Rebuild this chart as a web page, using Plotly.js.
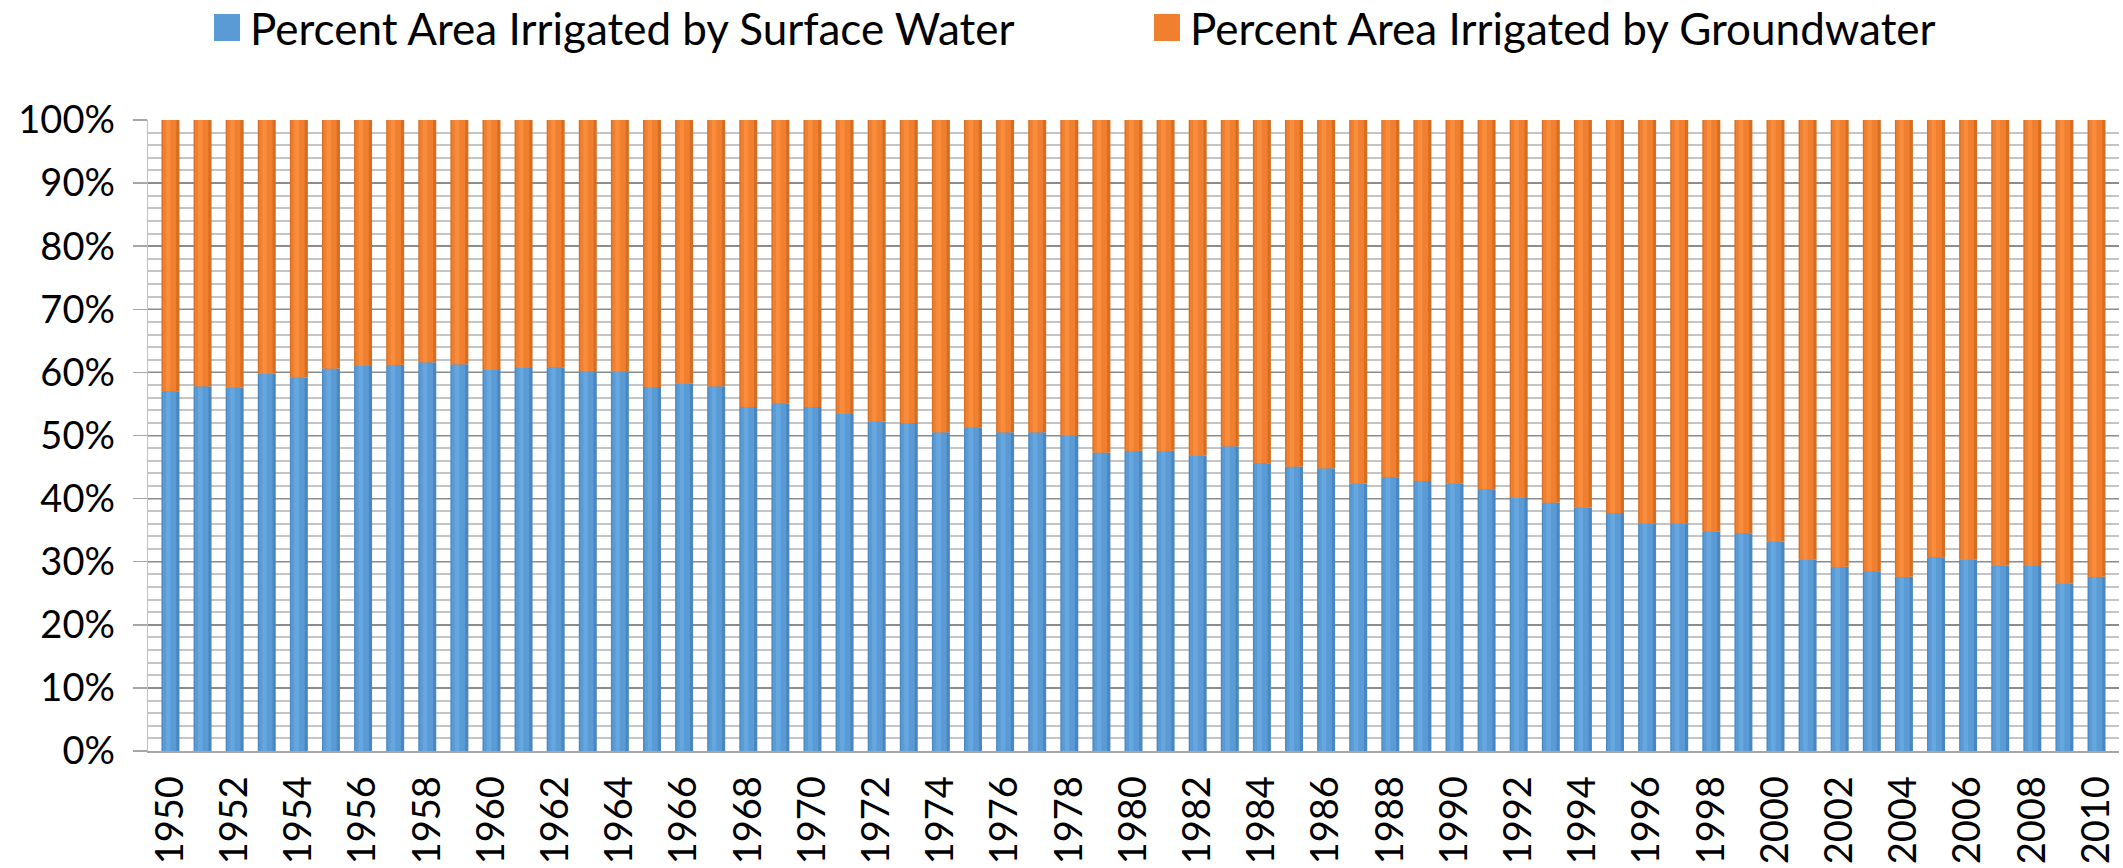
<!DOCTYPE html>
<html>
<head>
<meta charset="utf-8">
<script src="https://cdn.plot.ly/plotly-3.0.1.min.js"></script>
<style>
  html, body { margin: 0; padding: 0; background: #ffffff; }
  #chart { width: 2123px; height: 868px; }
</style>
</head>
<body>
<div id="chart"></div>
<script>
// Share of irrigated area by water source, 1950-2010 (percent)
const years = [
  1950, 1951, 1952, 1953, 1954, 1955, 1956, 1957, 1958, 1959,
  1960, 1961, 1962, 1963, 1964, 1965, 1966, 1967, 1968, 1969,
  1970, 1971, 1972, 1973, 1974, 1975, 1976, 1977, 1978, 1979,
  1980, 1981, 1982, 1983, 1984, 1985, 1986, 1987, 1988, 1989,
  1990, 1991, 1992, 1993, 1994, 1995, 1996, 1997, 1998, 1999,
  2000, 2001, 2002, 2003, 2004, 2005, 2006, 2007, 2008, 2009,
  2010
];

const surfacePct = [
  57.0, 57.8, 57.6, 59.8, 59.2, 60.6, 61.0, 61.2, 61.6, 61.3,
  60.4, 60.7, 60.8, 60.2, 60.1, 57.7, 58.2, 57.8, 54.5, 55.1,
  54.5, 53.4, 52.2, 52.0, 50.5, 51.3, 50.5, 50.5, 50.0, 47.3,
  47.6, 47.6, 46.8, 48.3, 45.6, 45.1, 44.8, 42.4, 43.4, 42.8,
  42.4, 41.5, 40.1, 39.4, 38.6, 37.7, 36.0, 36.0, 34.8, 34.5,
  33.2, 30.3, 29.2, 28.5, 27.6, 30.7, 30.3, 29.4, 29.3, 26.5,
  27.6
];

const groundPct = [
  43.0, 42.2, 42.4, 40.2, 40.8, 39.4, 39.0, 38.8, 38.4, 38.7,
  39.6, 39.3, 39.2, 39.8, 39.9, 42.3, 41.8, 42.2, 45.5, 44.9,
  45.5, 46.6, 47.8, 48.0, 49.5, 48.7, 49.5, 49.5, 50.0, 52.7,
  52.4, 52.4, 53.2, 51.7, 54.4, 54.9, 55.2, 57.6, 56.6, 57.2,
  57.6, 58.5, 59.9, 60.6, 61.4, 62.3, 64.0, 64.0, 65.2, 65.5,
  66.8, 69.7, 70.8, 71.5, 72.4, 69.3, 69.7, 70.6, 70.7, 73.5,
  72.4
];

const seriesNames = [
  'Percent Area Irrigated by Surface Water',
  'Percent Area Irrigated by Groundwater'
];

const yTickVals = [0, 10, 20, 30, 40, 50, 60, 70, 80, 90, 100];
const yTickText = ['0%', '10%', '20%', '30%', '40%', '50%', '60%', '70%', '80%', '90%', '100%'];

const FONT = 'Lato, "Open Sans", "Liberation Sans", sans-serif';

// Each column is drawn as a shaded cylinder: a darker outer body,
// the main face, and a narrow highlight a little left of centre.
function cylinder(name, values, base, colors, group) {
  const common = {
    type: 'bar', x: years, y: values, base: base,
    legendgroup: group, hoverinfo: 'x+y+name', name: name
  };
  return [
    Object.assign({}, common, {
      width: 0.56, showlegend: false,
      marker: { color: colors.edge, line: { width: 0 } }
    }),
    Object.assign({}, common, {
      width: 0.42, offset: -0.24, showlegend: true,
      marker: { color: colors.face, line: { width: 0 } }
    }),
    Object.assign({}, common, {
      width: 0.14, offset: -0.14, showlegend: false,
      marker: { color: colors.shine, line: { width: 0 } }
    })
  ];
}

const zeros = years.map(() => 0);

const traces = []
  .concat(cylinder(seriesNames[0], surfacePct, zeros,
    { edge: '#4a87c0', face: '#5b9bd5', shine: '#67a7df' }, 'surface'))
  .concat(cylinder(seriesNames[1], groundPct, surfacePct,
    { edge: '#d66e22', face: '#f07f30', shine: '#f88d3d' }, 'ground'));

const layout = {
  width: 2123,
  height: 868,
  paper_bgcolor: '#ffffff',
  plot_bgcolor: '#ffffff',
  font: { family: FONT, color: '#000000', size: 38 },
  margin: { l: 148, r: 4, t: 120, b: 117 },
  barmode: 'overlay',
  showlegend: true,
  legend: {
    orientation: 'h',
    xref: 'container', yref: 'container',
    x: 210 / 2123, xanchor: 'left',
    y: 1 - 28 / 868, yanchor: 'middle',
    font: { family: FONT, size: 44, color: '#000000' },
    entrywidth: 895,
    bgcolor: 'rgba(0,0,0,0)',
    traceorder: 'normal'
  },
  xaxis: {
    type: 'linear',
    range: [1949.3, 2010.7],
    tick0: 1950,
    dtick: 2,
    tickangle: -90,
    ticks: '',
    tickfont: { family: FONT, size: 38, color: '#000000' },
    showgrid: false,
    zeroline: false,
    showline: true,
    linecolor: '#a6a6a6',
    linewidth: 2,
    tickformat: 'd',
    ticklabelstandoff: 8
  },
  yaxis: {
    range: [0, 100],
    tickvals: yTickVals,
    ticktext: yTickText,
    ticks: 'outside',
    ticklen: 14,
    tickcolor: '#a6a6a6',
    tickwidth: 1.5,
    tickfont: { family: FONT, size: 38, color: '#000000' },
    ticklabelstandoff: 10,
    showline: true,
    linecolor: '#bfbfbf',
    linewidth: 1.5,
    showgrid: true,
    gridcolor: '#8c8c8c',
    gridwidth: 1.5,
    zeroline: false,
    minor: {
      dtick: 2,
      showgrid: true,
      gridcolor: '#c4c4c4',
      gridwidth: 2,
      ticks: ''
    }
  }
};

// Larger square swatches in the legend, drawn just left of each label
function enlargeSwatches() {
  document.querySelectorAll('#chart .legend .legendpoints path').forEach(p => {
    p.setAttribute('d', 'M10,13.5H-16V-13.5H10Z');
    p.style.strokeWidth = '0px';
  });
}

const gd = document.getElementById('chart');
Plotly.newPlot(gd, traces, layout, { displayModeBar: false, staticPlot: true }).then(() => {
  enlargeSwatches();
  gd.on('plotly_afterplot', enlargeSwatches);
});
</script>
</body>
</html>
